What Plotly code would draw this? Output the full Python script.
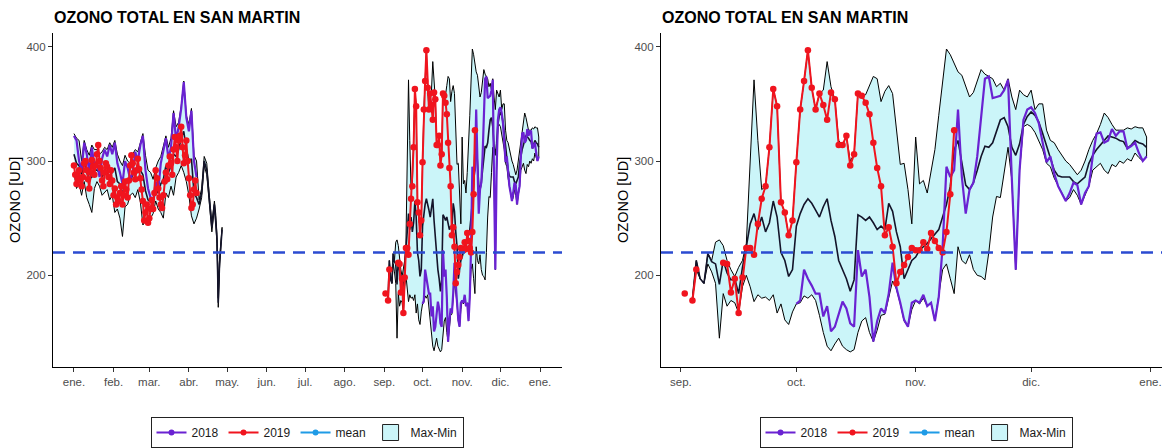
import pandas as pd
import plotly.graph_objects as go

# ---------------- DATA ----------------
# Jan-Apr block (day index counted from 1 January)
early_days_2018 = list(range(0, 97, 2))
early_2018 = [322, 318, 300, 292, 316, 306, 290, 312, 296, 300,
              286, 302, 310, 304, 314, 306, 316, 298, 290, 280,
              300, 294, 284, 290, 308, 300, 314, 322, 292, 276,
              268, 264, 282, 274, 298, 310, 320, 302, 312, 342,
              318, 330, 346, 369, 338, 326, 344, 300, 286]

early_days_2019 = list(range(0, 97))
early_2019 = [296, 288, 280, 284, 292, 283, 278, 286, 298, 300, 292, 284, 276, 290, 301, 295,
              288, 296, 306, 314, 300, 294, 283, 278, 290, 298, 295, 286, 280, 292, 283,
              270, 276, 262, 268, 265, 272, 278, 262, 270, 282, 275, 268, 283, 296, 305, 298,
              290, 284, 292, 302, 293, 285, 275, 265, 248, 255, 262, 246,
              250, 258, 266, 258, 272, 292, 285, 276, 268, 262, 259, 270, 282, 290, 284, 296,
              304, 298, 288, 310, 321, 312, 300, 318, 322, 330, 312, 298, 305, 318, 300,
              285, 270, 259, 262, 275, 283, 272]

early_days_band = list(range(0, 97, 2)) + [98, 100, 102, 104, 106, 108, 110, 111, 112, 113, 114, 116]
early_max = [324, 320, 318, 300, 318, 310, 305, 314, 310, 310,
             306, 308, 312, 310, 316, 312, 318, 306, 300, 296,
             305, 300, 298, 306, 310, 308, 316, 324, 305, 292,
             290, 284, 294, 300, 304, 312, 322, 312, 320, 344,
             330, 334, 348, 370, 340, 332, 346, 305, 300,
             266, 276, 304, 298, 270, 246, 265, 254, 236, 180, 214, 242]
early_mean = [306, 298, 296, 288, 300, 290, 284, 286, 292, 292,
              290, 286, 290, 288, 292, 290, 294, 282, 280, 270,
              284, 282, 282, 288, 290, 290, 292, 288, 274, 266,
              264, 262, 276, 272, 280, 284, 296, 290, 296, 306,
              304, 310, 320, 326, 310, 300, 302, 272, 268,
              262, 272, 300, 292, 266, 242, 262, 250, 232, 176, 210, 240]
early_min = [290, 276, 280, 270, 282, 268, 262, 255, 276, 282,
             278, 270, 272, 275, 266, 270, 255, 258, 250, 234,
             260, 262, 270, 272, 268, 275, 264, 244, 248, 244,
             250, 254, 265, 258, 255, 250, 272, 268, 278, 270,
             286, 290, 296, 290, 282, 270, 252, 245, 250,
             258, 268, 296, 288, 262, 238, 259, 246, 228, 172, 206, 238]

# Sep-Dec block (day index counted from 1 September)
late_days_band = list(range(3, 122))
late_max = [179, 213, 197, 193, 219, 213, 229, 231, 226, 213, 205, 199, 207, 213, 228, 304, 371,
            318, 275, 278, 312, 363, 348, 264, 255, 235, 248, 299, 345, 370, 397, 364, 345, 359,
            362, 387, 365, 354, 318, 314, 322, 300, 306, 359, 357, 358, 366, 374, 372, 352, 361,
            366, 359, 329, 297, 298, 275, 245, 321, 280, 283, 272, 290, 310, 340, 370, 398, 393,
            385, 378, 375, 365, 356, 360, 370, 380, 376, 374, 372, 365, 368, 362, 372, 356, 345,
            362, 358, 356, 362, 345, 350, 350, 327, 318, 316, 310, 305, 300, 297, 292, 288, 292,
            300, 310, 318, 324, 332, 342, 338, 332, 327, 327, 327, 329, 328, 330, 329, 329, 321]
late_mean = [179, 213, 197, 193, 219, 212, 210, 192, 213, 202, 196, 197, 184, 207, 225, 245, 254,
             240, 251, 238, 246, 265, 251, 220, 213, 199, 205, 243, 254, 262, 267, 263, 257, 251,
             260, 267, 248, 234, 213, 205, 197, 186, 196, 253, 251, 248, 251, 246, 240, 243, 240,
             263, 256, 238, 225, 197, 205, 213, 216, 222, 225, 228, 232, 236, 240, 251, 262, 278,
             310, 318, 298, 279, 275, 281, 292, 304, 313, 312, 316, 327, 336, 338, 330, 312, 305,
             315, 332, 339, 343, 340, 334, 324, 313, 302, 292, 287, 286, 286, 286, 282, 280, 283,
             286, 298, 305, 310, 314, 318, 322, 321, 320, 318, 317, 311, 314, 318, 316, 315, 312]
late_min = [179, 205, 197, 193, 210, 203, 193, 145, 184, 173, 178, 176, 167, 190, 200, 190, 177,
            183, 180, 181, 178, 183, 167, 175, 161, 157, 168, 175, 176, 182, 180, 183, 178, 165,
            150, 138, 134, 140, 145, 138, 135, 133, 135, 150, 160, 163, 150, 142, 152, 165, 166,
            180, 195, 188, 175, 160, 155, 170, 178, 175, 180, 173, 176, 160, 181, 205, 210, 197,
            184, 225, 213, 210, 218, 205, 200, 199, 196, 220, 251, 269, 268, 290, 312, 283, 205,
            292, 330, 332, 330, 325, 318, 310, 298, 295, 285, 278, 272, 265, 268, 275, 270, 262,
            270, 278, 292, 295, 298, 292, 289, 297, 295, 300, 298, 302, 300, 307, 303, 300, 304]

late_days_2019 = list(range(1, 72))
late_2019 = [184, None, 178, 205, None, None, None, None, None, None,
             211, 210, 185, 197, 167, 198, 224, 224, 218, 245,
             267, 278, 312, 363, 348, 264, 255, 235, 248, 299,
             345, 370, 397, 364, 345, 359, 349, 336, 360, 354,
             314, 314, 322, 296, 306, 359, 357, 351, 341, 316,
             294, 278, 235, 242, 225, 193, 203, 209, 216, 224,
             222, 222, 229, 223, 237, 230, 224, 220, 238, 271, 327]

late_days_2018 = list(range(30, 122))
late_2018 = [175, 178, 205, 197, 191, 184, 184, 164, 173, 151, 155, 167, 177, 171, 158, 155,
             222, 199, 205, 181, 142, 160, 171, 167, 184, 211, 189, 176, 161, 155, 176, 178,
             176, 183, 173, 176, 160, 181, 225, 295, 286, 292, 345, 286, 254, 275, 281, 304,
             339, 372, 374, 355, 356, 357, 362, 371, 283, 205, 292, 336, 345, 347, 342, 333,
             316, 299, 304, 289, 278, 272, 265, 272, 281, 279, 262, 272, 278, 304, 324, 325,
             316, 318, 328, 322, 326, 326, 311, 313, 316, 307, 300, 304]

threshold = 220

month_labels_left = ["ene.", "feb.", "mar.", "abr.", "may.", "jun.", "jul.",
                     "ago.", "sep.", "oct.", "nov.", "dic.", "ene."]
month_labels_right = ["sep.", "oct.", "nov.", "dic.", "ene."]
y_ticks = [200, 300, 400]

# ---------------- HELPERS ----------------
JAN = pd.Timestamp("2019-01-01")
SEP = pd.Timestamp("2019-09-01")


def to_dates(base, days):
    return [base + pd.Timedelta(days=d) for d in days]


C_2018 = "#6a22d2"
C_2019 = "#f0141e"
C_MEAN = "#1f9be6"
C_FILL = "#cbf5f9"
C_DASH = "#2b4bd1"
FONT = "Liberation Sans, Arial, sans-serif"

fig = go.Figure()


def add_panel(xa, ya, blocks):
    for base, band_days, mx, mn, mean in blocks:
        dx = to_dates(base, band_days)
        fig.add_trace(go.Scatter(
            x=dx + dx[::-1], y=mx + mn[::-1], fill="toself", fillcolor=C_FILL,
            line=dict(color="black", width=1), mode="lines", name="Max-Min",
            showlegend=False, xaxis=xa, yaxis=ya, hoverinfo="skip"))
    for base, band_days, mx, mn, mean in blocks:
        fig.add_trace(go.Scatter(
            x=to_dates(base, band_days), y=mean, mode="lines",
            line=dict(color="#14142a", width=1.6), showlegend=False,
            xaxis=xa, yaxis=ya))


def add_years(xa, ya, series):
    for base, days, vals, kind in series:
        if kind == "2018":
            fig.add_trace(go.Scatter(
                x=to_dates(base, days), y=vals, mode="lines",
                line=dict(color=C_2018, width=2.2), showlegend=False,
                xaxis=xa, yaxis=ya))
    for base, days, vals, kind in series:
        if kind == "2019":
            fig.add_trace(go.Scatter(
                x=to_dates(base, days), y=vals, mode="lines+markers",
                line=dict(color=C_2019, width=2), marker=dict(color=C_2019, size=6.5),
                showlegend=False, xaxis=xa, yaxis=ya))


def add_legend_items(xa, ya, legend_name):
    for name, col, rank in [("2018", C_2018, 1), ("2019", C_2019, 2), ("mean", C_MEAN, 3)]:
        fig.add_trace(go.Scatter(
            x=[None], y=[None], mode="lines+markers", name=name,
            line=dict(color=col, width=2), marker=dict(color=col, size=6),
            legend=legend_name, legendrank=rank, xaxis=xa, yaxis=ya))
    fig.add_trace(go.Scatter(
        x=[None], y=[None], mode="markers", name="Max-Min",
        marker=dict(symbol="square", size=16, color=C_FILL, line=dict(color="#222222", width=1)),
        legend=legend_name, legendrank=4, xaxis=xa, yaxis=ya))


# Left panel: full year
add_panel("x", "y", [
    (JAN, early_days_band, early_max, early_min, early_mean),
    (SEP, late_days_band, late_max, late_min, late_mean)])
add_years("x", "y", [
    (JAN, early_days_2018, early_2018, "2018"),
    (SEP, late_days_2018, late_2018, "2018"),
    (JAN, early_days_2019, early_2019, "2019"),
    (SEP, late_days_2019, late_2019, "2019")])
add_legend_items("x", "y", "legend")

# Right panel: September - December
add_panel("x2", "y2", [
    (SEP, late_days_band, late_max, late_min, late_mean)])
add_years("x2", "y2", [
    (SEP, late_days_2018, late_2018, "2018"),
    (SEP, late_days_2019, late_2019, "2019")])
add_legend_items("x2", "y2", "legend2")

W, H = 1162, 448
left_dom = [53 / W, 562 / W]
right_dom = [661 / W, 1.0]
y_dom = [1 - 367 / H, 1 - 33 / H]

left_ticks = [pd.Timestamp(f"2019-{m:02d}-01") for m in range(1, 13)] + [pd.Timestamp("2020-01-01")]
right_ticks = [pd.Timestamp("2019-09-01"), pd.Timestamp("2019-10-01"), pd.Timestamp("2019-11-01"),
               pd.Timestamp("2019-12-01"), pd.Timestamp("2020-01-01")]

xaxis_common = dict(type="date", showline=True, linecolor="black", linewidth=1.2,
                    ticks="outside", ticklen=4, tickcolor="#333333", tickwidth=1,
                    showgrid=False, zeroline=False, automargin=False,
                    tickfont=dict(family=FONT, size=11.5, color="#4d4d4d"))
yaxis_common = dict(showline=True, linecolor="black", linewidth=1.2,
                    ticks="outside", ticklen=4, tickcolor="#333333", tickwidth=1,
                    showgrid=False, zeroline=False, automargin=False,
                    range=[119.8, 412], tickvals=y_ticks,
                    tickfont=dict(family=FONT, size=11.5, color="#4d4d4d"), domain=y_dom)

legend_common = dict(orientation="h", y=1 - 417 / H, yanchor="top", xanchor="center",
                     bordercolor="#222222", borderwidth=1, bgcolor="white",
                     font=dict(family=FONT, size=12, color="#1a1a1a"), traceorder="normal")

fig.update_layout(
    width=W, height=H, margin=dict(l=0, r=0, t=0, b=0),
    paper_bgcolor="white", plot_bgcolor="white",
    font=dict(family=FONT, color="black"),
    xaxis=dict(xaxis_common, domain=left_dom, anchor="y",
               range=["2018-12-15 14:00", "2020-01-18 05:00"],
               tickvals=left_ticks, ticktext=month_labels_left),
    yaxis=dict(yaxis_common, anchor="x"),
    xaxis2=dict(xaxis_common, domain=right_dom, anchor="y2",
                range=["2019-08-26 20:00", "2020-01-04 00:00"],
                tickvals=right_ticks, ticktext=month_labels_right),
    yaxis2=dict(yaxis_common, anchor="x2"),
    legend=dict(legend_common, x=307 / W),
    legend2=dict(legend_common, x=916 / W),
    shapes=[
        dict(type="line", xref="x domain", yref="y", x0=0, x1=1, y0=threshold, y1=threshold,
             line=dict(color=C_DASH, width=2.6, dash="12px,8px")),
        dict(type="line", xref="x2 domain", yref="y2", x0=0, x1=1, y0=threshold, y1=threshold,
             line=dict(color=C_DASH, width=2.6, dash="12px,8px")),
    ],
    annotations=[
        dict(text="<b>OZONO TOTAL EN SAN MARTIN</b>", xref="paper", yref="paper",
             x=52 / W, y=1 - 18 / H, xanchor="left", yanchor="middle", showarrow=False,
             font=dict(family=FONT, size=16, color="black")),
        dict(text="<b>OZONO TOTAL EN SAN MARTIN</b>", xref="paper", yref="paper",
             x=660 / W, y=1 - 18 / H, xanchor="left", yanchor="middle", showarrow=False,
             font=dict(family=FONT, size=16, color="black")),
        dict(text="OZONO [UD]", xref="paper", yref="paper", x=15 / W, y=1 - 200 / H,
             xanchor="center", yanchor="middle", textangle=-90, showarrow=False,
             font=dict(family=FONT, size=14.5, color="black")),
        dict(text="OZONO [UD]", xref="paper", yref="paper", x=623 / W, y=1 - 200 / H,
             xanchor="center", yanchor="middle", textangle=-90, showarrow=False,
             font=dict(family=FONT, size=14.5, color="black")),
    ],
)

fig.write_html("out.html")
